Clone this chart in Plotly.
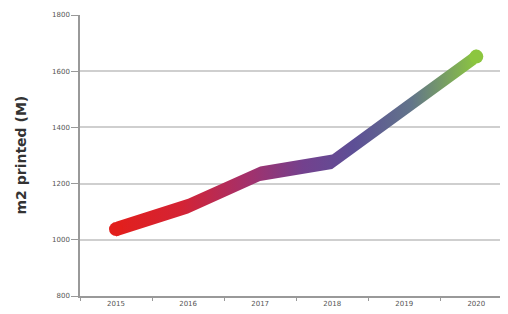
import plotly.graph_objects as go

years = ["2015", "2016", "2017", "2018", "2019", "2020"]
printed = [1038, 1120, 1235, 1278, 1465, 1652]
y_ticks = [800, 1000, 1200, 1400, 1600, 1800]

half = 26  # half thickness of the band, in axis units
gradient = [
    [0.0, "#e21f1c"],
    [0.18, "#d42334"],
    [0.36, "#a5306a"],
    [0.52, "#73418e"],
    [0.66, "#5d4f96"],
    [0.82, "#62758a"],
    [1.0, "#8cc63f"],
]

fig = go.Figure()
fig.add_trace(go.Scatter(
    x=years, y=[v - half for v in printed], mode="lines",
    line=dict(width=0, color="rgba(0,0,0,0)"), hoverinfo="skip", showlegend=False,
))
fig.add_trace(go.Scatter(
    x=years, y=[v + half for v in printed], mode="lines",
    line=dict(width=0, color="rgba(0,0,0,0)"), fill="tonexty",
    fillgradient=dict(type="horizontal", colorscale=gradient),
    hoverinfo="skip", showlegend=False,
))
fig.add_trace(go.Scatter(
    x=[years[0], years[-1]], y=[printed[0], printed[-1]], mode="markers",
    marker=dict(size=14, color=["#e21f1c", "#8cc63f"], line=dict(width=0)),
    showlegend=False,
))

# page body has an 8px margin, so the figure is offset by 8px
fig.update_layout(
    width=500, height=306,
    margin=dict(l=72, r=0, t=7, b=18),
    plot_bgcolor="white", paper_bgcolor="white",
    font=dict(family="DejaVu Sans", color="#555"),
    annotations=[dict(
        text="<b>m2 printed (M)</b>", textangle=-90,
        xref="paper", yref="paper", x=-60 / 428, y=0.5,
        xanchor="center", yanchor="middle", showarrow=False,
        font=dict(size=14, color="#333"),
    )],
)
fig.update_xaxes(
    type="category", range=[-0.5, 5.44], automargin=False,
    tickson="boundaries", ticks="outside", ticklen=3, tickcolor="#999",
    showline=True, linecolor="#999", linewidth=1.5,
    showgrid=False, tickfont=dict(size=7, color="#555"),
)
fig.update_yaxes(
    range=[800, 1800], tickvals=y_ticks, automargin=False,
    ticks="outside", ticklen=7, tickcolor="#999",
    showline=True, linecolor="#999", linewidth=1.5,
    showgrid=True, gridcolor="#cfcfcf", gridwidth=1.5,
    zeroline=False, tickfont=dict(size=7, color="#555"),
)

fig.write_html("out.html")
